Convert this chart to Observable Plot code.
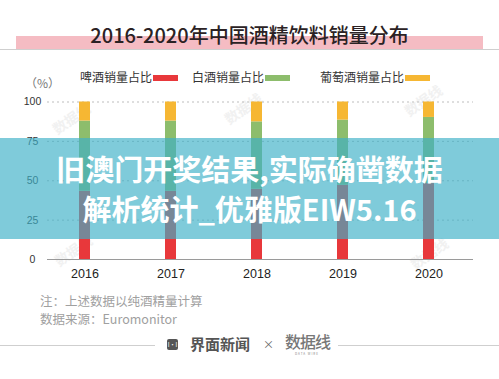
<!DOCTYPE html>
<html>
<head>
<meta charset="utf-8">
<script src="https://cdn.jsdelivr.net/npm/d3@7"></script>
<script src="https://cdn.jsdelivr.net/npm/@observablehq/plot@0.6"></script>
<style>
  html, body { margin: 0; padding: 0; background: #fff; }
  #root { position: relative; width: 499px; height: 379px; overflow: hidden; background: #fff;
          font-family: "Noto Sans CJK SC", "Noto Sans", sans-serif; }
  .abs { position: absolute; white-space: nowrap; }
  .wm { position: absolute; color: #f1f1f1; font-size: 14px; font-weight: 700; transform: rotate(-35deg); }
</style>
</head>
<body>
<div id="root">
  <div class="abs" style="left:16px;top:36px;width:467px;height:13px;background:#f5bcc3;"></div>
  <div class="abs" style="left:0;top:48.5px;width:499px;height:1px;background:#cfcfcf;"></div>
  <div class="abs" id="title" style="left:0;width:499px;top:22px;text-align:center;font-size:20px;line-height:26px;font-weight:500;color:#2b2224;"></div>

  <div class="wm" style="left:50px;top:108px;">数据线</div>
  <div class="wm" style="left:222px;top:98px;">数据线</div>
  <div class="wm" style="left:402px;top:90px;">数据线</div>
  <div class="wm" style="left:52px;top:240px;">数据线</div>
  <div class="wm" style="left:408px;top:243px;">数据线</div>

  <div class="abs" id="unit" style="left:25px;top:75px;font-size:12px;line-height:16px;color:#777;"></div>
  <div id="legend"></div>

  <div id="chart" class="abs" style="left:0;top:88px;"></div>

  <div class="abs" id="note1" style="left:40px;top:293px;font-size:12.5px;line-height:16px;color:#a0a0a0;"></div>
  <div class="abs" id="note2" style="left:40px;top:311px;font-size:12.5px;line-height:16px;color:#a0a0a0;"></div>

  <div class="abs" style="left:0;top:345px;width:155px;height:1px;background:#cfcfcf;"></div>
  <div class="abs" style="left:338px;top:345px;width:161px;height:1px;background:#cfcfcf;"></div>
  <div class="abs" style="left:167px;top:339px;width:11px;height:11px;background:#555;border-radius:2px;color:#fff;font-size:6px;line-height:11px;text-align:center;">I·I</div>
  <div class="abs" id="brand1" style="left:190px;top:334px;font-size:15px;line-height:20px;font-weight:700;color:#555;"></div>
  <div class="abs" style="left:263px;top:336px;font-size:11px;line-height:16px;color:#666;">×</div>
  <div class="abs" id="brand2" style="left:285px;top:331px;font-size:16px;line-height:20px;font-weight:500;color:#777;letter-spacing:-1px;"></div>
  <div class="abs" style="left:295px;top:352px;font-size:3px;line-height:4px;color:#888;letter-spacing:1px;">DATA WIRE</div>

  <div class="abs" style="left:0;top:138px;width:499px;height:101px;background:rgba(60,176,199,0.66);"></div>
  <div class="abs" id="banner1" style="left:0;width:499px;top:149px;text-align:center;font-size:29px;line-height:38px;font-weight:700;color:#fff;"></div>
  <div class="abs" id="banner2" style="left:0;width:499px;top:189px;text-align:center;font-size:29px;line-height:38px;font-weight:700;color:#fff;"></div>
</div>
<script>
// ---- data ----
const years = ["2016", "2017", "2018", "2019", "2020"];
const seriesNames = ["啤酒销量占比", "白酒销量占比", "葡萄酒销量占比"];
const beerShare = [43.3, 43.3, 44.6, 47.1, 48.2];
const baijiuShare = [44.6, 44.6, 42.8, 41.4, 42.0];
const wineShare = [12.1, 12.1, 12.6, 11.5, 9.8];
const seriesColors = ["#e8383b", "#8dbd6c", "#f6b733"];
const yTicks = [0, 25, 50, 75, 100];
const gridTicks = [25, 50, 75, 100];

const titleText = "2016-2020年中国酒精饮料销量分布";
const unitText = "（%）";
const noteText = "注：上述数据以纯酒精量计算";
const sourceText = "数据来源：Euromonitor";
const bannerLine1 = "旧澳门开奖结果,实际确凿数据";
const bannerLine2 = "解析统计_优雅版EIW5.16";
const brandA = "界面新闻";
const brandB = "数据线";

document.getElementById("title").textContent = titleText;
document.getElementById("unit").textContent = unitText;
document.getElementById("note1").textContent = noteText;
document.getElementById("note2").textContent = sourceText;
document.getElementById("banner1").textContent = bannerLine1;
document.getElementById("banner2").textContent = bannerLine2;
document.getElementById("brand1").textContent = brandA;
document.getElementById("brand2").textContent = brandB;

// legend
const legendPos = [{tx: 80, sx: 153}, {tx: 192, sx: 265}, {tx: 320, sx: 405}];
const legend = document.getElementById("legend");
seriesNames.forEach((name, i) => {
  const t = document.createElement("div");
  t.className = "abs";
  t.style.cssText = `left:${legendPos[i].tx}px;top:69px;font-size:12px;line-height:16px;color:#333;`;
  t.textContent = name;
  legend.appendChild(t);
  const s = document.createElement("div");
  s.className = "abs";
  s.style.cssText = `left:${legendPos[i].sx}px;top:75px;width:25px;height:6px;background:${seriesColors[i]};`;
  legend.appendChild(s);
});

const rows = [];
years.forEach((y, i) => {
  rows.push({year: y, type: seriesNames[0], value: beerShare[i]});
  rows.push({year: y, type: seriesNames[1], value: baijiuShare[i]});
  rows.push({year: y, type: seriesNames[2], value: wineShare[i]});
});

const chart = Plot.plot({
  width: 499,
  height: 200,
  marginTop: 13.5,
  marginBottom: 29,
  marginLeft: 47,
  marginRight: 26,
  style: {fontFamily: "'Liberation Sans', 'Noto Sans CJK SC', sans-serif", background: "transparent"},
  x: {type: "band", domain: years, range: [44, 470], paddingInner: 0.867, paddingOuter: 0.396},
  y: {domain: [0, 100]},
  color: {domain: seriesNames, range: seriesColors},
  marks: [
    Plot.ruleY(gridTicks, {stroke: "#bdbdbd", strokeDasharray: "2,3"}),
    Plot.barY(rows, {x: "year", y: "value", fill: "type", z: "type"}),
    Plot.ruleY([0], {stroke: "#9a9a9a"}),
    Plot.axisY({ticks: yTicks, tickSize: 0, tickPadding: 15, textAnchor: "middle", fontSize: 10.5, color: "#333", label: null}),
    Plot.axisX({tickSize: 0, tickPadding: 9.5, fontSize: 12.5, color: "#222", label: null})
  ]
});
document.getElementById("chart").appendChild(chart);
</script>
</body>
</html>
